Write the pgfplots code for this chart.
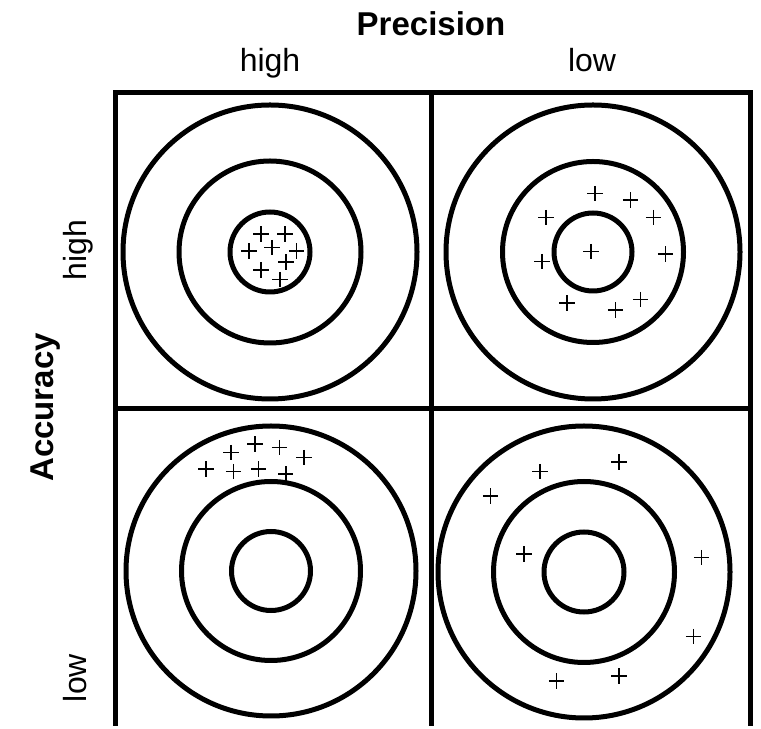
\documentclass[border=0pt]{standalone}
\usepackage{pgfplots}
\pgfplotsset{compat=1.18}
\usepackage{fontspec}
\setmainfont{Liberation Sans}
\begin{document}
\begin{tikzpicture}
\begin{axis}[
  x=1bp, y=1bp,
  xmin=0, xmax=761, ymin=0, ymax=726,
  hide axis, clip=false,
]
% invisible extent
\addplot[draw=none, mark=none] coordinates {(0,0) (761,726)};
% frame and dividers
\addplot[line width=5bp, line join=miter, mark=none] coordinates {(115.5,0) (115.5,633) (750.5,633) (750.5,0)};
\addplot[line width=5bp, mark=none] coordinates {(431.5,0) (431.5,633)};
\addplot[line width=5bp, mark=none] coordinates {(115.5,317) (750.5,317)};
% targets
\draw[line width=5bp] (axis cs:270,474) circle[radius=147];
\draw[line width=5bp] (axis cs:270,474) circle[radius=91];
\draw[line width=5bp] (axis cs:270,474) circle[radius=40];
\draw[line width=5bp] (axis cs:593,474) circle[radius=147];
\draw[line width=5bp] (axis cs:593,474) circle[radius=90.5];
\draw[line width=5bp] (axis cs:593,474) circle[radius=39];
\draw[line width=5bp] (axis cs:271,155) circle[radius=145];
\draw[line width=5bp] (axis cs:271,155) circle[radius=89.5];
\draw[line width=5bp] (axis cs:271,155) circle[radius=39.5];
\draw[line width=5bp] (axis cs:584,154) circle[radius=146];
\draw[line width=5bp] (axis cs:584,154) circle[radius=90.5];
\draw[line width=5bp] (axis cs:584,154) circle[radius=40];
% hits
\pgfplotsset{hits/.style={only marks, mark=+, mark size=7.7bp, mark options={line width=1.6bp, black}}}
\addplot[hits] coordinates {(261,492) (285,492) (249,475) (272,478.5) (296.5,475) (286,464) (261,456) (280,446.5)};
\addplot[hits] coordinates {(595,532.5) (630.5,526) (546,508.5) (653.5,508.5) (591,474.5) (542,464.5) (665.5,472) (567,423) (640.5,426.5) (615.5,416)};
\addplot[hits] coordinates {(231,273.5) (255,282) (279.5,278.5) (304,268.5) (206,257) (233.5,254.5) (258.5,257) (285.7,252)};
\addplot[hits] coordinates {(540,254.5) (619,264) (490.5,230) (524,172) (701.5,168.5) (693.5,89.5) (556.5,45) (619,50)};
% labels
\node[font=\bfseries\fontsize{33bp}{40bp}\selectfont, anchor=base] at (axis cs:431,690) {Precision};
\node[font=\fontsize{32bp}{38bp}\selectfont, anchor=base] at (axis cs:270,654) {high};
\node[font=\fontsize{32bp}{38bp}\selectfont, anchor=base] at (axis cs:592,654) {low};
\node[font=\bfseries\fontsize{33bp}{40bp}\selectfont, anchor=base, rotate=90] at (axis cs:53,318.5) {Accuracy};
\node[font=\fontsize{32bp}{38bp}\selectfont, anchor=base, rotate=90] at (axis cs:86,476) {high};
\node[font=\fontsize{32bp}{38bp}\selectfont, anchor=base, rotate=90] at (axis cs:86,48) {low};
\end{axis}
\end{tikzpicture}
\end{document}
